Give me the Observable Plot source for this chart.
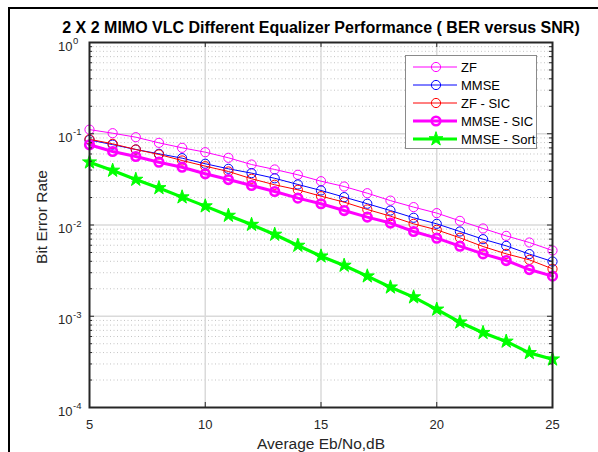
<!DOCTYPE html>
<html><head><meta charset="utf-8">
<script src="https://cdn.jsdelivr.net/npm/d3@7"></script>
<script src="https://cdn.jsdelivr.net/npm/@observablehq/plot@0.6"></script>
<style>
body{margin:0;background:#fff;}
#wrap{position:relative;width:598px;height:452px;overflow:hidden;font-family:Arial,"Liberation Sans",Helvetica,sans-serif;}
#border{position:absolute;left:8px;top:7px;width:640px;height:500px;border-left:2px solid #000;border-top:2px solid #000;pointer-events:none;}
#chart{position:absolute;left:0;top:0;}
#legend{position:absolute;left:405px;top:55px;}
</style></head><body>
<div id="wrap"><div id="chart"></div><div id="border"></div><div id="legend"></div></div>
<script>
// ---- data ----
const snr = [5,6,7,8,9,10,11,12,13,14,15,16,17,18,19,20,21,22,23,24,25];
const berZF = [0.111,0.1014,0.0917,0.0795,0.0701,0.0628,0.0545,0.0460,0.0406,0.0355,0.0302,0.0264,0.0223,0.0185,0.0157,0.0135,0.0111,0.00916,0.0076,0.00643,0.00526];
const berMMSE = [0.0855,0.0760,0.0672,0.0603,0.054,0.0469,0.0413,0.0370,0.0325,0.0278,0.0239,0.0202,0.0171,0.0144,0.0120,0.0103,0.00849,0.00699,0.00591,0.00480,0.00398];
const berZFSIC = [0.087,0.0776,0.0672,0.0593,0.0509,0.0441,0.0386,0.0321,0.0276,0.0243,0.0207,0.0178,0.0148,0.0125,0.0103,0.00885,0.00724,0.00581,0.00483,0.00415,0.00331];
const berMMSESIC = [0.0757,0.0639,0.0563,0.0488,0.043,0.0364,0.0315,0.0271,0.0233,0.0197,0.0171,0.0144,0.0122,0.0105,0.00849,0.00717,0.00586,0.00483,0.00408,0.00325,0.00275];
const berMMSESort = [0.0488,0.0396,0.0315,0.0255,0.0202,0.0161,0.0127,0.0101,0.00787,0.00596,0.00455,0.0036,0.00275,0.00208,0.00162,0.00119,0.00086,0.00066,0.00053,0.000397,0.000338];
const seriesNames = ["ZF","MMSE","ZF - SIC","MMSE - SIC","MMSE - Sort"];
const seriesValues = [berZF, berMMSE, berZFSIC, berMMSESIC, berMMSESort];
const xTicks = [5,10,15,20,25];
const yDecades = [1e-4,1e-3,1e-2,1e-1,1];
const yExponents = ["-4","-3","-2","-1","0"];
const titleText = "2 X 2 MIMO VLC Different Equalizer Performance ( BER versus SNR)";
const xLabel = "Average Eb/No,dB";
const yLabel = "Bit Error Rate";

// ---- styles ----
const styles = [
  {color:"#ff00ff", lw:1, symbol:"circle", fill:"none", r:4.6, sw:1},
  {color:"#0000ff", lw:1, symbol:"circle", fill:"none", r:4.6, sw:1},
  {color:"#ff0000", lw:1, symbol:"circle", fill:"none", r:4.6, sw:1},
  {color:"#ff00ff", lw:3, symbol:"circle", fill:"none", r:4.3, sw:2.6},
  {color:"#00ff00", lw:3.2, symbol:"star", fill:"#00ff00", r:4.4, sw:1}
];

const rows = [];
seriesNames.forEach((name, s) => snr.forEach((x, i) => rows.push({series: s, name, x, y: seriesValues[s][i]})));

const yMinor = [];
yDecades.slice(0, -1).forEach(d => [2,3,4,5,6,7,8,9].forEach(k => yMinor.push(k * d)));

const W = 598, H = 452, mL = 89, mR = 46, mT = 42, mB = 45;
const iw = W - mL - mR, ih = H - mT - mB;
const axisColor = "#262626";

const marks = [
  Plot.ruleY(yMinor, {y: d => d, stroke: "#bdbdbd", strokeDasharray: "1,2.5", strokeWidth: 0.9}),
  Plot.ruleY(yDecades.slice(1, -1), {y: d => d, stroke: "#dadada", strokeWidth: 1.5}),
  Plot.ruleX(xTicks.slice(1, -1), {x: d => d, stroke: "#dadada", strokeWidth: 1.5}),
];
styles.forEach((st, s) => {
  const data = rows.filter(r => r.series === s);
  marks.push(Plot.line(data, {x: "x", y: "y", stroke: st.color, strokeWidth: st.lw}));
  marks.push(Plot.dot(data, {x: "x", y: "y", symbol: st.symbol, r: st.r, stroke: st.color, fill: st.fill, strokeWidth: st.sw}));
});
marks.push(
  Plot.frame({stroke: axisColor, strokeWidth: 2}),
  // y ticks inward (left & right)
  Plot.ruleY(yDecades, {y: d => d, insetRight: iw - 5, stroke: axisColor, strokeWidth: 1}),
  Plot.ruleY(yDecades, {y: d => d, insetLeft: iw - 5, stroke: axisColor, strokeWidth: 1}),
  Plot.ruleY(yMinor, {y: d => d, insetRight: iw - 3, stroke: axisColor, strokeWidth: 1}),
  Plot.ruleY(yMinor, {y: d => d, insetLeft: iw - 3, stroke: axisColor, strokeWidth: 1}),
  // x ticks inward (bottom & top)
  Plot.ruleX(xTicks, {x: d => d, insetTop: ih - 5, stroke: axisColor, strokeWidth: 1}),
  Plot.ruleX(xTicks, {x: d => d, insetBottom: ih - 5, stroke: axisColor, strokeWidth: 1}),
  // y tick labels
  Plot.text(yDecades, {y: d => d, frameAnchor: "left", text: () => "10", textAnchor: "end", lineAnchor: "middle", dx: -17, dy: 4, fontSize: 13, fill: axisColor}),
  Plot.text(yDecades, {y: d => d, frameAnchor: "left", text: (d, i) => yExponents[i], textAnchor: "start", lineAnchor: "middle", dx: -16.5, dy: -1.5, fontSize: 9.5, fill: axisColor}),
  // x tick labels
  Plot.text(xTicks, {x: d => d, frameAnchor: "bottom", lineAnchor: "middle", text: d => String(d), dy: 17, fontSize: 13, fill: axisColor}),
  // labels
  Plot.text([xLabel], {frameAnchor: "bottom", lineAnchor: "middle", text: d => d, dy: 37, fontSize: 15.5, fill: axisColor}),
  Plot.text([yLabel], {frameAnchor: "left", textAnchor: "middle", lineAnchor: "middle", text: d => d, dx: -47, dy: -8, rotate: -90, fontSize: 15.5, fill: axisColor}),
  Plot.text([titleText], {frameAnchor: "top", lineAnchor: "middle", text: d => d, dy: -15, fontSize: 16, fontWeight: "bold", fill: "#000"})
);

const chart = Plot.plot({
  width: W, height: H,
  marginLeft: mL, marginRight: mR, marginTop: mT, marginBottom: mB,
  style: {fontFamily: "Arial, 'Liberation Sans', Helvetica, sans-serif", background: "#fff", overflow: "visible"},
  x: {domain: [5, 25], axis: null},
  y: {type: "log", domain: [1e-4, 1], axis: null},
  marks
});
document.getElementById("chart").appendChild(chart);

// ---- legend ----
const lw = 132, lh = 94;
const leg = d3.select("#legend").append("svg").attr("width", lw).attr("height", lh)
  .style("font-family", "Arial, 'Liberation Sans', Helvetica, sans-serif");
leg.append("rect").attr("x", 0.5).attr("y", 0.5).attr("width", lw - 1).attr("height", lh - 1)
  .attr("fill", "#fff").attr("stroke", "#8a8a8a").attr("stroke-width", 1);
seriesNames.forEach((name, i) => {
  const st = styles[i];
  const cy = 12 + i * 18;
  const g = leg.append("g");
  g.append("line").attr("x1", 8).attr("x2", 52).attr("y1", cy).attr("y2", cy)
    .attr("stroke", st.color).attr("stroke-width", st.lw);
  if (st.symbol === "star") {
    g.append("path").attr("transform", `translate(31,${cy})`)
      .attr("d", d3.symbol(d3.symbolStar, Math.PI * st.r * st.r)())
      .attr("fill", st.fill).attr("stroke", st.color).attr("stroke-width", st.sw);
  } else {
    g.append("circle").attr("cx", 31).attr("cy", cy).attr("r", st.r)
      .attr("fill", st.fill === "none" ? "none" : st.fill).attr("stroke", st.color).attr("stroke-width", st.sw);
  }
  g.append("text").attr("x", 56).attr("y", cy).attr("dy", "0.35em")
    .attr("font-size", 13).attr("fill", "#000").text(name);
});
</script>
</body></html>
